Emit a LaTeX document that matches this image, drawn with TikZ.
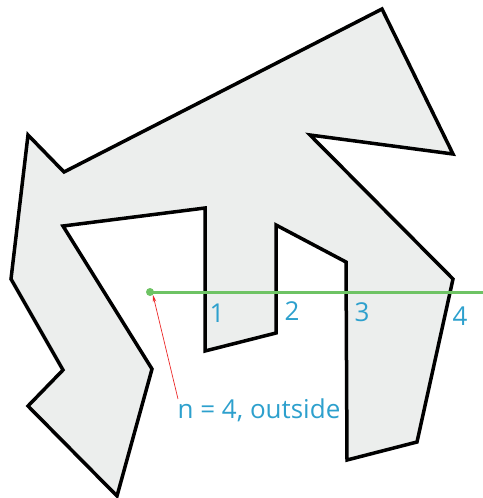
\documentclass[tikz,border=0pt]{standalone}
\usepackage{fontspec}
\usetikzlibrary{arrows.meta, positioning}
\newfontfamily\labelfont{Open Sans}
\definecolor{shapefill}{RGB}{236,238,237}
\definecolor{raycolor}{RGB}{110,195,100}
\definecolor{labelcolor}{RGB}{45,160,205}
\definecolor{pointercolor}{RGB}{235,40,40}

\begin{document}
\begin{tikzpicture}[x=1pt, y=-1pt,
    crossing/.style={text=labelcolor, font=\labelfont\fontsize{26}{28}\selectfont, inner sep=0pt}]
                \useasboundingbox (0,0) rectangle (482,498);
                % Draw the polygon
                \draw[line width=3.5pt, line join=miter, fill=shapefill]
                    (382,9) -- (453,154) -- (310,135) -- (453,279) -- (417,442)
                    -- (347,460) -- (346,262) -- (276,225) -- (276,333) -- (205,351)
                    -- (205,208) -- (63,226) -- (152,369) -- (117,496) -- (28,406)
                    -- (63,370) -- (11,279) -- (28,135) -- (64,172) -- cycle;
                
                % Ray from the test point
                \node[circle, fill=raycolor, inner sep=0pt, minimum size=8pt] (pt) at (150,292) {};
                \coordinate (rayend) at (483,292);
                \draw[raycolor, line width=3pt] (pt.center) -- (rayend);
                
                % Crossings
                \node[crossing] (c1) at (217,313) {1};
                \node[crossing] (c2) at (292,311) {2};
                \node[crossing] (c3) at (362,312) {3};
                \node[crossing] (c4) at (460,316) {4};
                
                \node[crossing] (result) at (259,410) {n = 4, outside};
                \coordinate (tail) at (178,399);
                \draw[pointercolor, line width=0.7pt, -{Stealth[length=7pt, width=3.5pt]}] (tail) -- (pt.south east);
            \end{tikzpicture}
\end{document}
